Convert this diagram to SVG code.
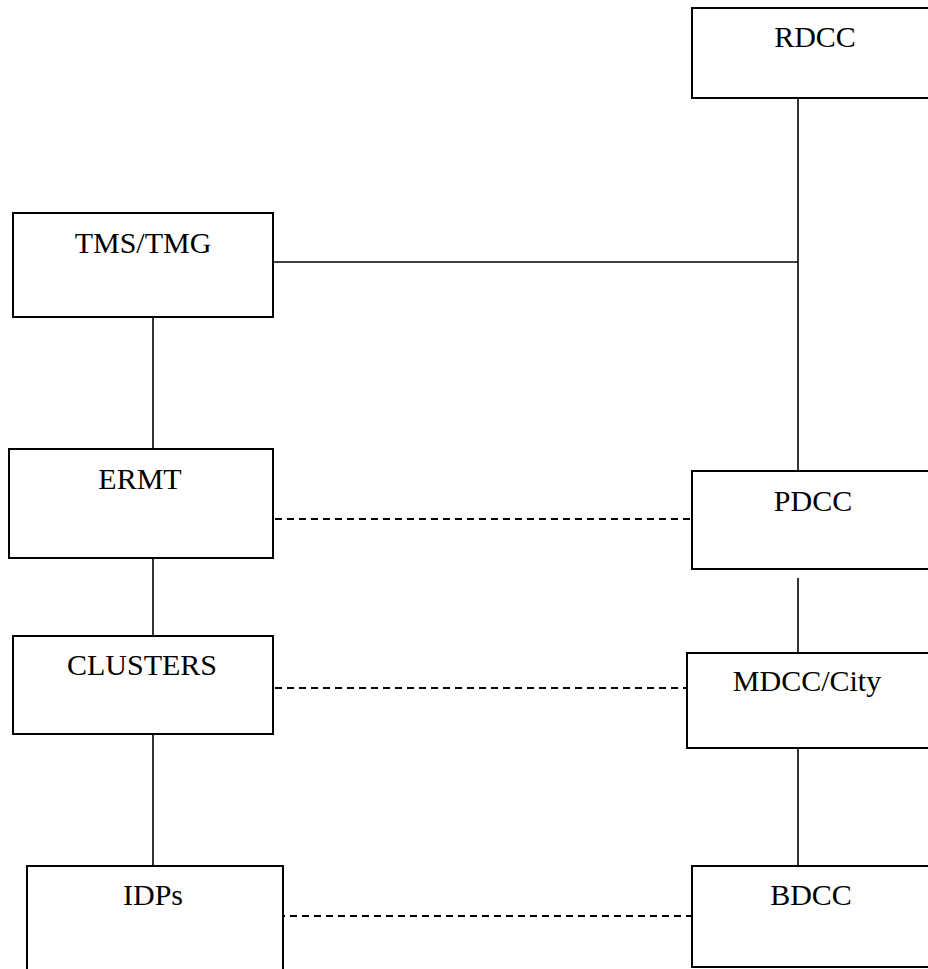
<svg xmlns="http://www.w3.org/2000/svg" width="928" height="969" viewBox="0 0 928 969">
<style>
.box{fill:#fff;stroke:#000;stroke-width:2}
.lbl{font-family:"Liberation Serif","Times New Roman",serif;font-size:30px;fill:#000;text-anchor:middle}
.ln{stroke:#000;stroke-width:1.6;fill:none}
.dash{stroke:#000;stroke-width:2;fill:none;stroke-dasharray:7,5}
</style>
<rect width="928" height="969" fill="#fff"/>
<g id="connectors">
<line class="ln" x1="798" y1="98" x2="798" y2="471"/>
<line class="ln" x1="273" y1="262" x2="798" y2="262"/>
<line class="ln" x1="153" y1="317" x2="153" y2="449"/>
<line class="ln" x1="153" y1="558" x2="153" y2="636"/>
<line class="ln" x1="153" y1="734" x2="153" y2="866"/>
<line class="ln" x1="798" y1="578" x2="798" y2="653"/>
<line class="ln" x1="798" y1="748" x2="798" y2="866"/>
<line class="dash" x1="275" y1="519" x2="690" y2="519"/>
<line class="dash" x1="275" y1="688" x2="687" y2="688"/>
<line class="dash" x1="278" y1="916" x2="692" y2="916"/>
</g>
<g id="RDCC"><rect class="box" x="692" y="8" width="244" height="90"/><text class="lbl" x="815" y="47">RDCC</text></g>
<g id="TMS_TMG"><rect class="box" x="13" y="213" width="260" height="104"/><text class="lbl" x="143" y="253">TMS/TMG</text></g>
<g id="ERMT"><rect class="box" x="9" y="449" width="264" height="109"/><text class="lbl" x="140" y="489">ERMT</text></g>
<g id="PDCC"><rect class="box" x="692" y="471" width="244" height="98"/><text class="lbl" x="813" y="511">PDCC</text></g>
<g id="CLUSTERS"><rect class="box" x="13" y="636" width="260" height="98"/><text class="lbl" x="142" y="675">CLUSTERS</text></g>
<g id="MDCC_City"><rect class="box" x="687" y="653" width="249" height="95"/><text class="lbl" x="807" y="691">MDCC/City</text></g>
<g id="IDPs"><rect class="box" x="27" y="866" width="256" height="110"/><text class="lbl" x="153" y="905">IDPs</text></g>
<g id="BDCC"><rect class="box" x="692" y="866" width="244" height="101"/><text class="lbl" x="811" y="905">BDCC</text></g>
</svg>
